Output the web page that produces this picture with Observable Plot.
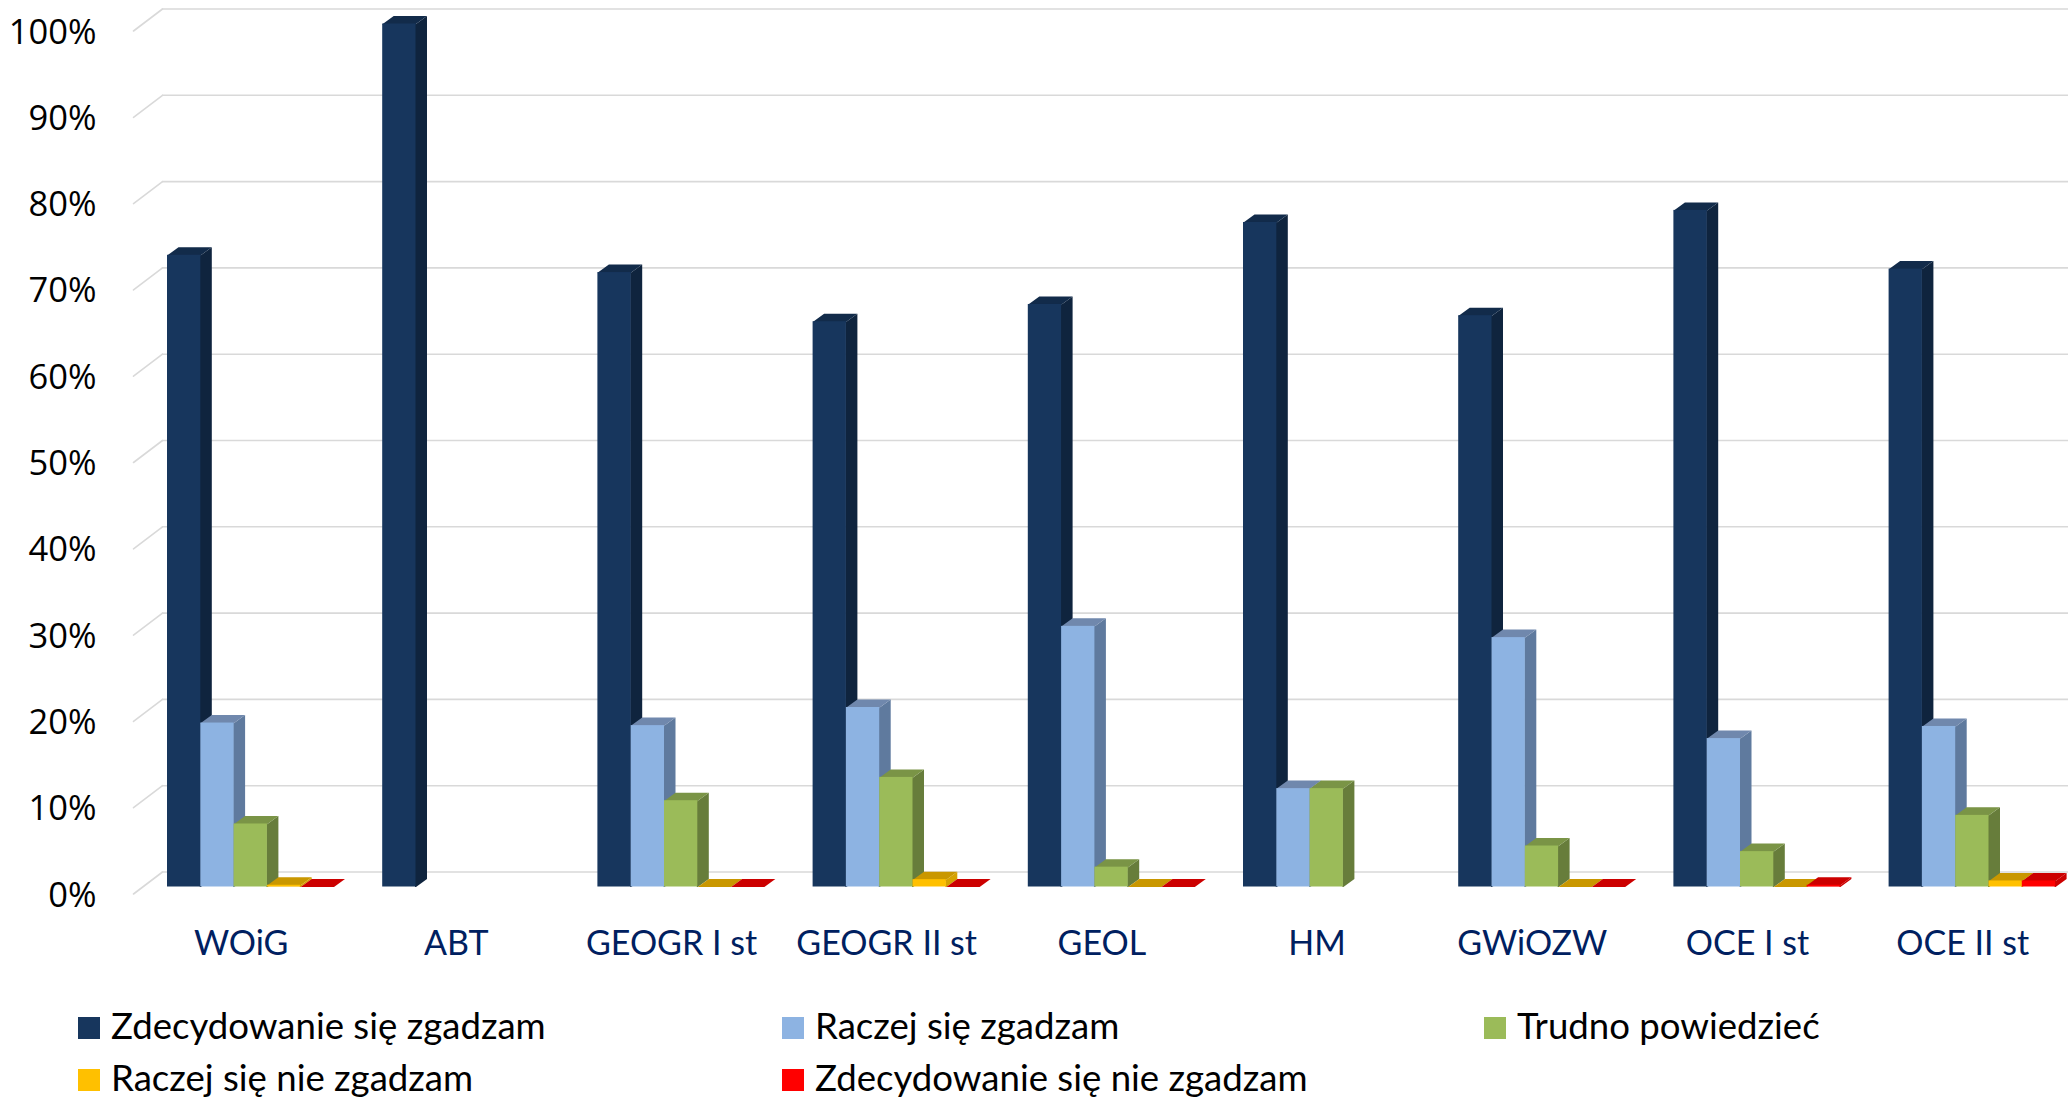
<!DOCTYPE html>
<html><head><meta charset="utf-8">
<script src="https://cdn.jsdelivr.net/npm/d3@7"></script>
<script src="https://cdn.jsdelivr.net/npm/@observablehq/plot@0.6"></script>
<style>
html,body{margin:0;padding:0;background:#fff;width:2068px;height:1099px;overflow:hidden}
#chart svg{display:block}
#legend{position:relative;height:99px;font-family:Lato,sans-serif;font-size:36.6px;color:#000}
.it{position:absolute;display:flex;align-items:center;height:40px;gap:11px;white-space:nowrap}
.it span:last-child{position:relative;top:-3px}
.sw{width:22px;height:22px;flex:none}
</style></head><body>
<div id="chart"></div><div id="legend"></div>
<script>
const categories = ["WOiG","ABT","GEOGR I st","GEOGR II st","GEOL","HM","GWiOZW","OCE I st","OCE II st"];
const seriesNames = ["Zdecydowanie się zgadzam","Raczej się zgadzam","Trudno powiedzieć","Raczej się nie zgadzam","Zdecydowanie się nie zgadzam"];
const frontColors = ["#17365d","#8db3e2","#9bbb59","#ffc000","#ff0000"];
const sideColors = ["#0f243e","#5f7a9e","#677d3b","#d6a200","#cc0000"];
const topColors = ["#122b4a","#7088ad","#7a9446","#c99700","#cc0000"];
const strongAgree = [73.2,100,71.2,65.5,67.5,77,66.2,78.4,71.6];
const agree = [19,null,18.7,20.8,30.2,11.4,28.9,17.2,18.6];
const unsure = [7.3,null,10,12.7,2.3,11.4,4.75,4.1,8.3];
const disagree = [0.2,null,0,0.85,0,null,0,0,0.7];
const strongDisagree = [0,null,0,0,0,null,0,0.2,0.7];
const seriesValues = [strongAgree,agree,unsure,disagree,strongDisagree];
const yTicks = [0,10,20,30,40,50,60,70,80,90,100];

const pxX = 215.2, pxY = 8.63;
const barW = 33.3/pxX, barOff = 34/pxX, sideX = 11/pxX, sideY = 8/pxY;
const wallX = 29/pxX, frontY = -7/pxY, backY = 15/pxY;
const lapX = 1/pxX, lapY = 1/pxY; // hidden overlap under the front face, avoids hairline seams

const bars = [], sides = [], tops = [];
categories.forEach((c,i)=>seriesValues.forEach((vals,s)=>{
  const v = vals[i]; if(v==null) return;
  const x1 = i+barOff+s*barW, x2 = x1+barW;
  bars.push({x1,x2,y:v,s});
  const id = c+"-"+s;
  if(v>0){
    for(const [x,y] of [[x2-lapX,0],[x2,0],[x2+sideX,sideY],[x2+sideX,v+sideY],[x2,v],[x2-lapX,v]]) sides.push({id,x,y,s});
  }
  const base = v>0 ? v-lapY : v;
  for(const [x,y] of [[x1,base],[x1,v],[x1+sideX,v+sideY],[x2+sideX,v+sideY],[x2,v],[x2,base]]) tops.push({id,x,y,s});
}));
const marks = [];
const stub = yTicks.flatMap(t=>[{t,x:0,y:t+frontY},{t,x:wallX,y:t+backY}]);
const wall = yTicks.flatMap(t=>[{t,x:wallX,y:t+backY},{t,x:9,y:t+backY}]);
marks.push(Plot.line(stub,{x:"x",y:"y",z:"t",stroke:"#d9d9d9",strokeWidth:1.6}));
marks.push(Plot.line(wall,{x:"x",y:"y",z:"t",stroke:"#d9d9d9",strokeWidth:1.6}));
seriesNames.forEach((n,s)=>{
  marks.push(Plot.line(sides.filter(d=>d.s===s),{x:"x",y:"y",z:"id",fill:sideColors[s],stroke:null}));
  marks.push(Plot.line(tops.filter(d=>d.s===s),{x:"x",y:"y",z:"id",fill:topColors[s],stroke:null}));
  marks.push(Plot.rectY(bars.filter(d=>d.s===s&&d.y>0),{x1:"x1",x2:"x2",y1:0,y2:"y",fill:frontColors[s]}));
});
marks.push(Plot.axisY({ticks:yTicks,tickFormat:d=>d+"%",tickSize:0,tickPadding:37,label:null,dy:8.5,fontSize:34.5,fontFamily:"'Open Sans',sans-serif",fill:"#000"}));
marks.push(Plot.axisX({ticks:categories.map((c,i)=>i+0.5),tickFormat:d=>categories[Math.floor(d)],tickSize:0,tickPadding:44,label:null,fontSize:34,fontFamily:"Lato,sans-serif",fill:"#002060"}));

const plot = Plot.plot({
  width:2068,height:1000,marginLeft:133,marginRight:0,marginTop:23,marginBottom:113.5,
  style:{background:"#fff",overflow:"hidden"},
  x:{domain:[0,9],range:[133,2069.8]},
  y:{domain:[0,100],range:[886.5,23.5]},
  marks
});
document.getElementById("chart").append(plot);
const leg = document.getElementById("legend");
const lx = [78,782,1484], ly = [8,60];
seriesNames.forEach((n,i)=>{
  const d = document.createElement("div"); d.className="it";
  d.style.left = lx[i%3]+"px"; d.style.top = ly[Math.floor(i/3)]+"px";
  const sw = document.createElement("span"); sw.className="sw"; sw.style.background = frontColors[i];
  const t = document.createElement("span"); t.textContent = n;
  d.append(sw,t); leg.append(d);
});
</script></body></html>
